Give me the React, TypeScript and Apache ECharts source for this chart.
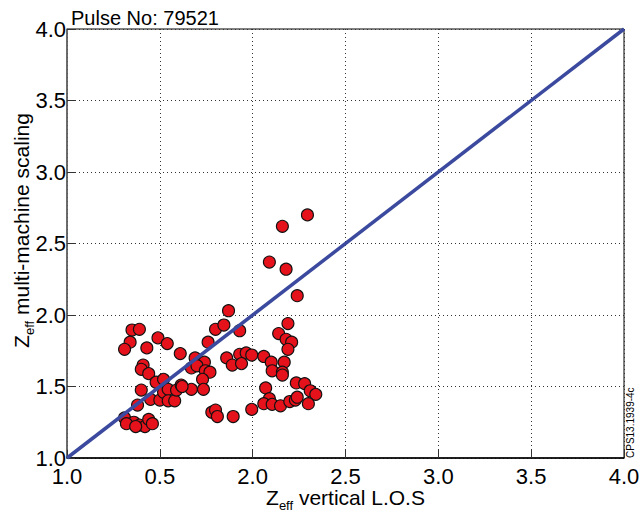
import React, { useEffect, useRef } from "react";
import * as echarts from "echarts";

const titleText = "Pulse No: 79521";
const stampText = "CPS13.1939-4c";
const xTickLabels = ["1.0", "0.5", "2.0", "2.5", "3.0", "3.5", "4.0"];
const yTickLabels = ["1.0", "1.5", "2.0", "2.5", "3.0", "3.5", "4.0"];

const zVertical = [
  2.295, 2.16, 2.09, 2.18, 2.24, 1.87,
  1.35, 1.39, 1.34, 1.31, 1.43, 1.49, 1.54, 1.61,
  1.41, 1.40, 1.44, 1.48, 1.52, 1.40, 1.45, 1.50, 1.52, 1.545, 1.545, 1.58, 1.59, 1.615,
  1.38, 1.31, 1.36, 1.32, 1.39, 1.42, 1.44, 1.46, 1.37,
  1.80, 1.845, 1.93, 1.76, 1.69, 1.74, 1.67, 1.70, 1.745, 1.77, 1.73, 1.67, 1.735, 1.62,
  1.86, 1.89, 1.93, 1.965, 1.995, 1.94, 1.78, 1.80, 1.81, 1.895, 1.995,
  2.19, 2.14, 2.18, 2.21, 2.19, 2.06, 2.10, 2.17, 2.105, 2.16, 2.16, 2.235, 2.28, 2.31, 2.34,
  2.07, 2.09, 2.06, 2.105, 2.15, 2.20, 2.23, 2.24, 2.30,
];
const zScaling = [
  2.70, 2.62, 2.37, 2.32, 2.135, 2.03,
  1.895, 1.90, 1.81, 1.76, 1.77, 1.84, 1.80, 1.73,
  1.65, 1.62, 1.59, 1.53, 1.55, 1.475, 1.41, 1.405, 1.46, 1.48, 1.40, 1.40, 1.475, 1.51,
  1.37, 1.28, 1.25, 1.24, 1.23, 1.22, 1.27, 1.24, 1.22,
  1.90, 1.93, 1.89, 1.81, 1.70, 1.67, 1.63, 1.645, 1.61, 1.60, 1.55, 1.48, 1.48, 1.50,
  1.70, 1.65, 1.725, 1.735, 1.72, 1.66, 1.32, 1.335, 1.29, 1.29, 1.34,
  1.94, 1.87, 1.83, 1.81, 1.76, 1.71, 1.67, 1.67, 1.61, 1.60, 1.58, 1.525, 1.52, 1.47, 1.445,
  1.49, 1.415, 1.38, 1.375, 1.365, 1.395, 1.405, 1.425, 1.38,
];
const lineX = [1, 4];
const lineY = [1, 4];

const FONT = "'Liberation Sans', Arial, Helvetica, sans-serif";

const nameRich = {
  z: { fontSize: 21, lineHeight: 20, fontFamily: FONT, color: "#000", verticalAlign: "bottom" },
  s: { fontSize: 13, lineHeight: 14, fontFamily: FONT, color: "#000", verticalAlign: "bottom", padding: [0, 0, -4, 0] },
  n: { fontSize: 21, lineHeight: 20, fontFamily: FONT, color: "#000", verticalAlign: "bottom" },
};

export default function App() {
  const ref = useRef<HTMLDivElement>(null);
  useEffect(() => {
    if (!ref.current) return;
    const chart = echarts.init(ref.current, undefined, { renderer: "svg" });
    const points = zVertical.map((x, i) => [x, zScaling[i]]);
    const linePts = lineX.map((x, i) => [x, lineY[i]]);
    chart.setOption({
      animation: false,
      backgroundColor: "#ffffff",
      textStyle: { fontFamily: FONT },
      title: {
        text: titleText,
        left: 66,
        top: 3,
        textStyle: { fontFamily: FONT, fontSize: 20, fontWeight: "normal", color: "#000" },
      },
      graphic: [
        {
          type: "text",
          x: 625,
          y: 458,
          rotation: Math.PI / 2,
          style: { text: stampText, fontFamily: FONT, fontSize: 10, fill: "#000", textAlign: "left", textVerticalAlign: "top" },
        },
      ],
      grid: {
        left: 67,
        right: 17,
        top: 29,
        bottom: 57,
        show: true,
        containLabel: false,
        outerBoundsMode: "none",
        borderColor: "#000",
        borderWidth: 1,
        backgroundColor: "transparent",
      },
      xAxis: {
        type: "value",
        min: 1,
        max: 4,
        interval: 0.5,
        name: "{z|Z}{s|eff}{n| vertical L.O.S}",
        nameLocation: "middle",
        nameGap: 30,
        nameMoveOverlap: false,
        nameTextStyle: { rich: nameRich },
        axisLine: { show: true, lineStyle: { color: "#000", width: 1.5 } },
        axisTick: { show: true, inside: true, length: 8, lineStyle: { color: "#333", width: 1 } },
        axisLabel: {
          fontSize: 22,
          lineHeight: 18,
          color: "#000",
          fontFamily: FONT,
          margin: 9,
          formatter: (_v: number, i: number) => xTickLabels[i] ?? "",
        },
        splitLine: { show: true, lineStyle: { type: [1, 3], color: "#333", width: 1 } },
      },
      yAxis: {
        type: "value",
        min: 1,
        max: 4,
        interval: 0.5,
        name: "{z|Z}{s|eff}{n| multi-machine scaling}",
        nameLocation: "middle",
        nameGap: 35,
        nameMoveOverlap: false,
        nameRotate: 90,
        nameTextStyle: { rich: nameRich, padding: [0, 0, 0, 26] },
        axisLine: { show: true, lineStyle: { color: "#666", width: 1.5 } },
        axisTick: { show: true, inside: true, length: 8, lineStyle: { color: "#333", width: 1 } },
        axisLabel: {
          fontSize: 22,
          color: "#000",
          fontFamily: FONT,
          margin: 1,
          lineHeight: 18,
          formatter: (_v: number, i: number) => yTickLabels[i] ?? "",
        },
        splitLine: { show: true, lineStyle: { type: [1, 3], color: "#333", width: 1 } },
      },
      series: [
        {
          type: "scatter",
          data: points,
          symbol: "circle",
          symbolSize: 12,
          itemStyle: { color: "#e5121b", borderColor: "#111", borderWidth: 1.1, opacity: 1 },
          z: 2,
        },
        {
          type: "line",
          data: linePts,
          showSymbol: false,
          lineStyle: { color: "#3b4a9e", width: 3.5 },
          z: 3,
        },
      ],
    });
    return () => chart.dispose();
  }, []);
  return <div ref={ref} style={{ width: 641, height: 515, position: "absolute", left: 0, top: 0 }} />;
}
